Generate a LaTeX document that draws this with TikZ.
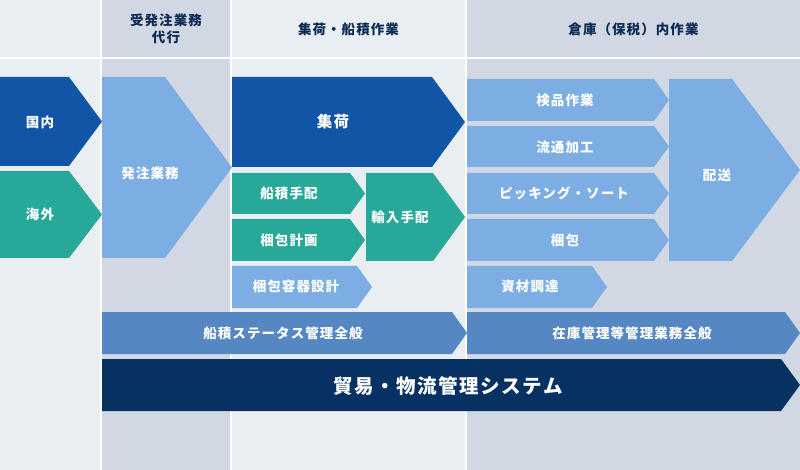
\documentclass[tikz,border=0pt]{standalone}
\usepackage{fontspec}
\setmainfont{Noto Sans CJK JP}[LetterSpace=8]
\definecolor{bgl}{HTML}{E9EEF3}
\definecolor{bgg}{HTML}{D1D8E3}
\definecolor{dblue}{HTML}{1155A7}
\definecolor{teal}{HTML}{27A899}
\definecolor{lblue}{HTML}{7CAEE4}
\definecolor{mblue}{HTML}{5587C2}
\definecolor{navy}{HTML}{073163}
\definecolor{hdr}{HTML}{0D2C55}
\newcommand\chev[6]{\fill[#1] (#2,#3) -- (#4,#3) -- (#5,{(#3+#6)/2}) -- (#4,#6) -- (#2,#6) -- cycle;}
\begin{document}
\begin{tikzpicture}[x=1pt,y=-1pt,
  lbl/.style={text=white,font=\bfseries\fontsize{13.5}{15}\selectfont,inner sep=0pt},
  big/.style={text=white,font=\bfseries\fontsize{15.5}{17}\selectfont,inner sep=0pt},
  huge/.style={text=white,font=\bfseries\fontsize{19.5}{21}\selectfont,inner sep=0pt},
  hd/.style={text=hdr,font=\bfseries\fontsize{13.5}{17}\selectfont,align=center,inner sep=0pt}]
\useasboundingbox (0,0) rectangle (800,470);
\fill[white] (0,0) rectangle (800,470);
% columns
\fill[bgl] (0,0) rectangle (100,57);
\fill[bgl] (0,59) rectangle (100,470);
\fill[bgg] (102,0) rectangle (230,57);
\fill[bgg] (102,59) rectangle (230,470);
\fill[bgl] (232,0) rectangle (465,57);
\fill[bgl] (232,59) rectangle (465,470);
\fill[bgg] (467,0) rectangle (800,57);
\fill[bgg] (467,59) rectangle (800,470);
% headers
\node[hd] (h2) at (166,28.5) {受発注業務\\代行};
\node[hd] (h3) at (348.5,29) {集荷・船積作業};
\node[hd] (h4) at (633.5,29) {倉庫（保税）内作業};
% shapes
\chev{dblue}{0}{77}{69}{102}{166}
\chev{teal}{0}{171}{69}{102}{258}
\chev{lblue}{102}{77}{165}{232}{258}
\chev{dblue}{232}{77}{432}{465}{167}
\chev{teal}{232}{173}{350}{365}{214}
\chev{teal}{232}{219}{350}{365}{261}
\chev{teal}{366}{173}{433}{465}{261}
\chev{lblue}{232}{266}{357}{372}{308}
\chev{mblue}{102}{312}{452}{467}{354}
\chev{mblue}{467}{312}{785}{800}{354}
\chev{navy}{102}{359}{781}{800}{411}
\chev{lblue}{467}{79}{654}{669}{121}
\chev{lblue}{467}{126}{654}{669}{167}
\chev{lblue}{467}{173}{654}{669}{214}
\chev{lblue}{467}{219}{654}{669}{261}
\chev{lblue}{467}{266}{592}{607}{308}
\chev{lblue}{669}{79}{732}{800}{261}
% labels
\node[lbl] (kokunai) at (40,122) {国内};
\node[lbl] (kaigai) at (40,214) {海外};
\node[lbl] (hatchu) at (150,173) {発注業務};
\node[big] (shuka) at (333,122) {集荷};
\node[lbl] (funazumi) at (289,193) {船積手配};
\node[lbl] (konpokeikaku) at (289,240) {梱包計画};
\node[lbl] (yunyu) at (400,217) {輸入手配};
\node[lbl] (yoki) at (296,286) {梱包容器設計};
\node[lbl] (status) at (283,333) {船積ステータス管理全般};
\node[lbl] (zaiko) at (632,333) {在庫管理等管理業務全般};
\node[huge] (system) at (448,386) {貿易・物流管理システム};
\node[lbl] (kenpin) at (565,100) {検品作業};
\node[lbl] (ryutsu) at (565,147) {流通加工};
\node[lbl] (picking) at (564,193) {ピッキング・ソート};
\node[lbl] (konpo) at (565,240) {梱包};
\node[lbl] (shizai) at (530,286) {資材調達};
\node[lbl] (haiso) at (717,175) {配送};
\end{tikzpicture}
\end{document}
